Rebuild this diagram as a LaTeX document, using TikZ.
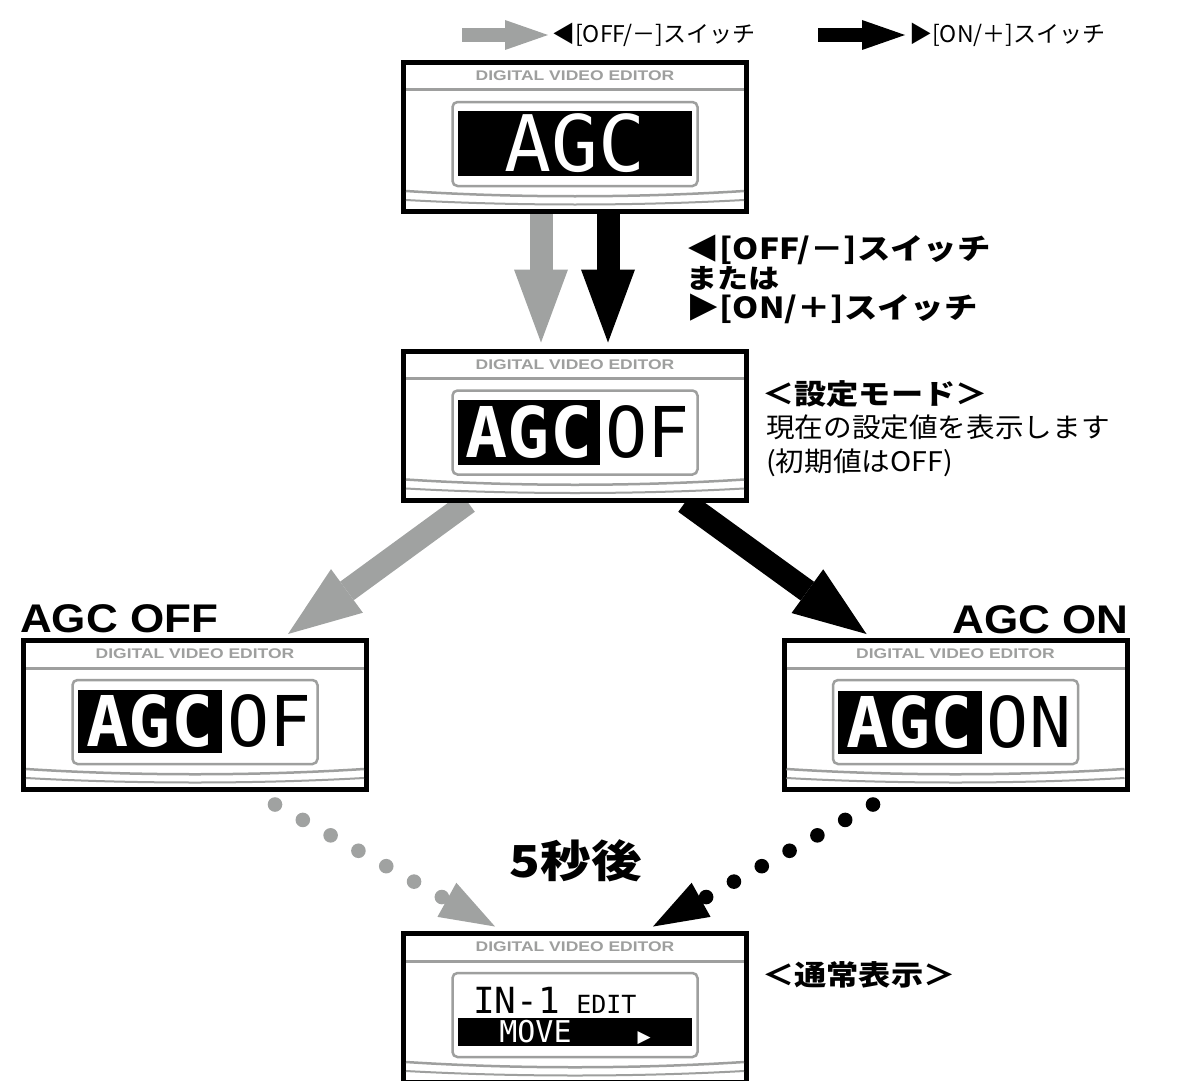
\documentclass[tikz,border=0pt]{standalone}
\usepackage{fontspec}
\setmainfont{Liberation Sans}
\newfontfamily\jp{Noto Sans CJK JP}
\newfontfamily\jpwide{Noto Sans CJK JP}[FakeStretch=1.15]
\newfontfamily\jpreg{Noto Sans CJK JP}[FakeStretch=1.06]
\newfontfamily\headfont{Liberation Sans}[FakeStretch=1.1]
\newfontfamily\titlefont{Liberation Sans}[FakeStretch=1.25]
\newfontfamily\lcd{DejaVu Sans Mono}
\newfontfamily\symb{DejaVu Sans}
\usetikzlibrary{arrows.meta,positioning,backgrounds}
\definecolor{keygray}{RGB}{160,162,161}
\definecolor{bezelgray}{RGB}{158,159,158}
\tikzset{
	panel/.style={draw,line width=5pt,fill=white,minimum width=343pt,minimum height=149pt,inner sep=0pt},
	paneltitle/.style={text=bezelgray,inner sep=0pt,font=\titlefont\bfseries\fontsize{14}{14}\selectfont},
	bezel/.style={draw=bezelgray,line width=#1},
	lcdframe/.style={draw=bezelgray,line width=2.5pt,rounded corners=5pt},
	lcdbar/.style 2 args={fill=black,text=white,inner sep=0pt,minimum width=#1,minimum height=#2},
	lcdtext/.style={inner sep=0pt,font=\lcd\fontsize{#1}{#1}\selectfont},
	lcdbold/.style={inner sep=0pt,font=\lcd\bfseries\fontsize{#1}{#1}\selectfont},
	block/.style={draw=#1,line width=23pt,-{Triangle[length=73pt,width=54pt,line width=0pt]}},
	keyarrow/.style={draw=#1,line width=14pt,-{Triangle[length=43pt,width=30pt,line width=0pt]}},
	dots/.style={draw=#1,line width=14.6pt,line cap=round,dash pattern=on 0pt off 31.8pt,-{Triangle[length=55pt,width=39pt,line width=0pt]}},
	jptext/.style={inner sep=0pt,font=\jpreg\fontsize{#1}{#1}\selectfont},
	jpbold/.style={inner sep=0pt,font=\jpwide\bfseries\fontsize{#1}{#1}\selectfont},
	headline/.style={inner sep=0pt,font=\headfont\bfseries\fontsize{40}{40}\selectfont}
}
% one display of the editor, without its LCD contents
\newcommand\lcdpanel[3]{
	\node[panel] (#1) at (#2,#3) {};
	\begin{scope}[shift={(#1.center)}]
		\node[paneltitle] (#1-title) at (0,-61) {DIGITAL VIDEO EDITOR};
		\draw[bezel=3pt] (-169,-47) -- (169,-47);
		\draw[bezel=2.5pt] (-169,54) .. controls (-60,61) and (60,61) .. (169,54);
		\draw[bezel=2pt] (-169,63) .. controls (-60,69) and (60,69) .. (169,63);
		\draw[lcdframe] (-122.5,-35) rectangle (122.5,49);
	\end{scope}
}

\begin{document}
\begin{tikzpicture}[x=1pt,y=-1pt]
	\path[use as bounding box] (0,0) rectangle (1184,1081);
	\clip (0,0) rectangle (1184,1081);

	% legend
	\node[inner sep=0pt,font=\jp\fontsize{23}{23}\selectfont,anchor=west] (offkey) at (552,35) {◀[OFF/－]スイッチ};
	\node[inner sep=0pt,font=\jp\fontsize{23}{23}\selectfont,anchor=west] (onkey) at (909,35) {▶[ON/＋]スイッチ};
	\draw[keyarrow=keygray] ([xshift=-90pt]offkey.west) -- ([xshift=-4pt]offkey.west);
	\draw[keyarrow=black] ([xshift=-91pt]onkey.west) -- ([xshift=-4pt]onkey.west);

	% displays
	\lcdpanel{top}{575}{137}
	\lcdpanel{mode}{575}{425.5}
	\lcdpanel{off}{195}{715}
	\lcdpanel{on}{955.5}{715}
	\lcdpanel{normal}{575}{1008}

	\node[lcdbar={234pt}{65pt},lcdtext=78] (top-agc) at (575,143.5) {AGC};

	\node[lcdbar={142pt}{65pt},lcdbold=70] (mode-agc) at (529,432.5) {AGC};
	\node[lcdtext=70,right=5pt of mode-agc] (mode-val) {OF};

	\node[lcdbar={144pt}{63pt},lcdbold=70] (off-agc) at (150,721.5) {AGC};
	\node[lcdtext=70,right=5pt of off-agc] (off-val) {OF};

	\node[lcdbar={144pt}{63pt},lcdbold=70] (on-agc) at (909.5,722) {AGC};
	\node[lcdtext=70,right=5pt of on-agc] (on-val) {ON};

	\node[lcdtext=36,anchor=base west] (normal-in) at (473,1013) {IN-1};
	\node[lcdtext=25,base right=16pt of normal-in] (normal-edit) {EDIT};
	\node[lcdbar={234pt}{28pt},lcdtext=30] (normal-move) at (575,1032) {MOVE\hspace{66pt}{\symb\fontsize{17}{17}\selectfont ▶}};

	% texts
	\node[jpbold=29,anchor=base west] (sw-off) at (686,259) {◀[OFF/－]スイッチ};
	\node[jpbold=27,anchor=base west] (sw-or) at (686,288) {または};
	\node[jpbold=29,anchor=base west] (sw-on) at (686,318) {▶[ON/＋]スイッチ};

	\node[jpbold=28,anchor=base west] (mode-title) at (762,404) {＜設定モード＞};
	\node[jptext=27,anchor=base west] (mode-now) at (766,437) {現在の設定値を表示します};
	\node[jptext=27,anchor=base west] (mode-init) at (766,471) {(初期値はOFF)};

	\node[headline,anchor=base west] (off-name) at (20,632) {AGC OFF};
	\node[headline,anchor=base east] (on-name) at (1129,633) {AGC ON};

	\node[jpbold=44] (delay) at (576,861) {5秒後};
	\node[jpbold=28,anchor=base west] (normal-title) at (762,985) {＜通常表示＞};

	% arrows behind the displays
	\begin{scope}[on background layer]
		\draw[block=keygray] ([xshift=-34pt]top.south) -- ([xshift=-34pt,yshift=6pt]mode.north);
		\draw[block=black] ([xshift=33pt]top.south) -- ([xshift=33pt,yshift=6pt]mode.north);
		\draw[block=keygray] ([xshift=-107pt]mode.south) -- ([xshift=93pt,yshift=4pt]off.north);
		\draw[block=black] ([xshift=110pt]mode.south) -- ([xshift=-89pt,yshift=4pt]on.north);
		\draw[dots=keygray] ([xshift=80pt,yshift=-12.5pt]off.south) -- ([xshift=-80pt,yshift=4.5pt]normal.north);
		\draw[dots=black] ([xshift=-82.5pt,yshift=-12.5pt]on.south) -- ([xshift=78pt,yshift=4.5pt]normal.north);
	\end{scope}
\end{tikzpicture}
\end{document}
